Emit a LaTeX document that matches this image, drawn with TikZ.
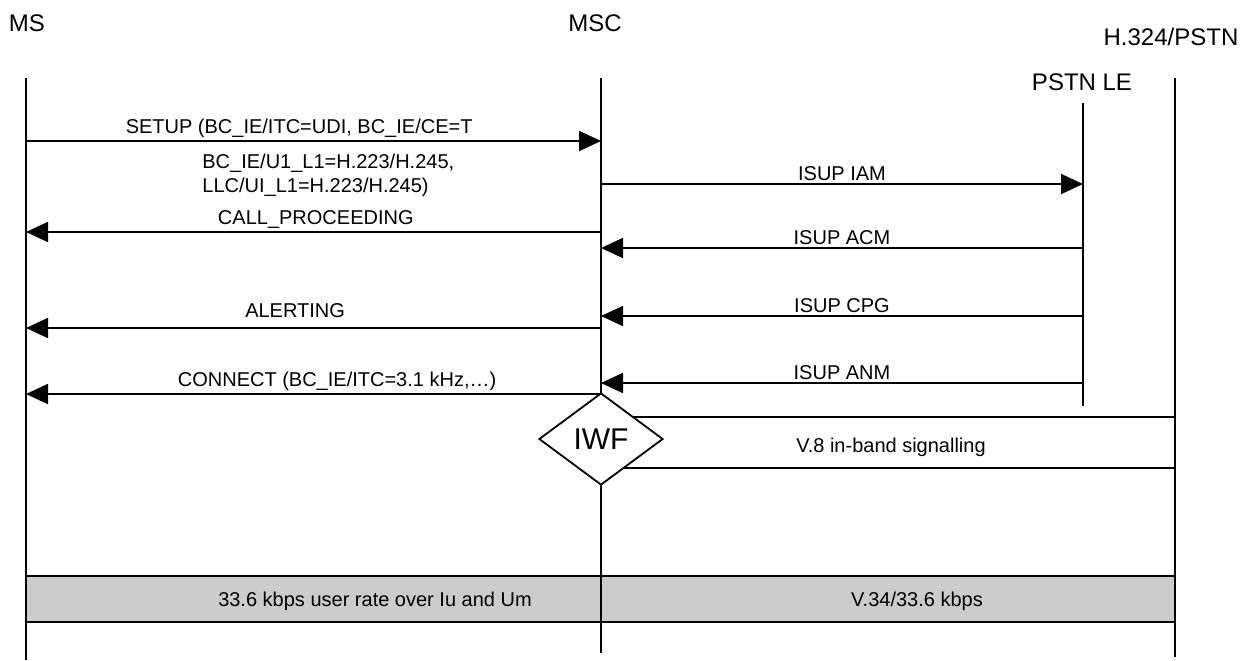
\documentclass[tikz,border=0pt]{standalone}
\usepackage{fontspec}
\setmainfont{Liberation Sans}
\usepackage{xcolor}
\usetikzlibrary{arrows.meta,shapes.geometric}
\definecolor{barfill}{RGB}{204,204,204}
\tikzset{
  life/.style={line width=0.9pt},
  msg/.style={line width=0.9pt,-{Triangle[length=11pt,width=10pt]}},
  lbl/.style={font=\fontsize{10}{12}\selectfont,inner sep=0pt,text depth=0pt},
  ent/.style={font=\fontsize{12}{14}\selectfont,inner sep=0pt}
}
\begin{document}
\begin{tikzpicture}[x=0.5pt,y=-0.5pt]
\useasboundingbox(0,0)rectangle(1248,660);
% entities
\node[ent](msname)at(27,23){MS};
\node[ent](mscname)at(595,23){MSC};
\node[ent](pstnname)at(1171,37){H.324/PSTN};
\node[ent](lename)at(1082,82){PSTN LE};
\coordinate(ms)at(26,78);\coordinate(msc)at(601,78);
\coordinate(le)at(1083,103);\coordinate(pstn)at(1175,78);
% user rate bar
\draw[line width=1.2pt,fill=barfill](ms|-0,576)rectangle(pstn|-0,622);
\node[lbl,anchor=base](rateum)at(375,606){33.6 kbps user rate over Iu and Um};
\node[lbl,anchor=base](ratev34)at(917,606){V.34/33.6 kbps};
% lifelines
\draw[life](ms)--(ms|-0,660);
\draw[life](msc)--(msc|-0,653);
\draw[life](le)--(le|-0,406);
\draw[life](pstn)--(pstn|-0,657);
% messages
\draw[msg](ms|-0,141)--node[lbl,above=3.5pt,pos=0.475](setup){SETUP (BC\_IE/ITC=UDI, BC\_IE/CE=T}(msc|-0,141);
\node[lbl,anchor=west,align=left,text depth=3pt](setupinfo)at(202,176){BC\_IE/U1\_L1=H.223/H.245,\\LLC/UI\_L1=H.223/H.245)};
\draw[msg](msc|-0,184)--node[lbl,above=1.3pt](iam){ISUP IAM}(le|-0,184);
\draw[msg](msc|-0,232)--node[lbl,above=3.5pt,pos=0.496](callproc){CALL\_PROCEEDING}(ms|-0,232);
\draw[msg](le|-0,248)--node[lbl,above=1.3pt](acm){ISUP ACM}(msc|-0,248);
\draw[msg](le|-0,316)--node[lbl,above=1.3pt](cpg){ISUP CPG}(msc|-0,316);
\draw[msg](msc|-0,328)--node[lbl,above=5pt,pos=0.532](alert){ALERTING}(ms|-0,328);
\draw[msg](le|-0,383)--node[lbl,above=1.3pt](anm){ISUP ANM}(msc|-0,383);
\draw[msg](msc|-0,394)--node[lbl,above=3.5pt,pos=0.459](connect){CONNECT (BC\_IE/ITC=3.1 kHz,…)}(ms|-0,394);
% in-band signalling through the IWF
\draw[life](msc|-0,417)rectangle(pstn|-0,468);
\node[lbl,anchor=base](v8)at(891,452){V.8 in-band signalling};
\node[diamond,draw,fill=white,life,minimum width=62pt,minimum height=46pt,inner sep=0pt,
  font=\fontsize{15}{18}\selectfont](iwf)at(601,439){IWF};
\end{tikzpicture}
\end{document}
